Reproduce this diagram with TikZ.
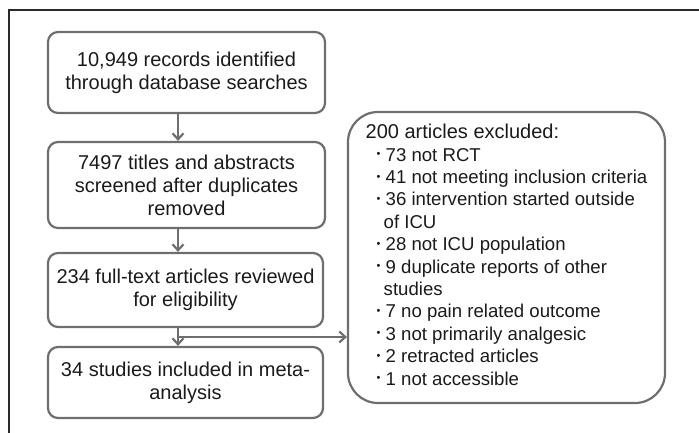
\documentclass[tikz,border=0pt]{standalone}
\usepackage{fontspec}
\setmainfont{Liberation Sans}
\usetikzlibrary{arrows.meta}
\definecolor{boxgray}{HTML}{6E6E6E}
\definecolor{framecol}{HTML}{2A2A2A}
\definecolor{txt}{HTML}{1A1A1A}
\newcommand\bul{\raisebox{3.5pt}{\fontsize{11}{11}\selectfont\textbullet}}
\newcommand\itm[1]{\hspace*{11pt}\makebox[9pt][l]{\bul}#1}
\newcommand\cnt[1]{\hspace*{18pt}#1}
\begin{document}
\begin{tikzpicture}[x=1pt,y=-1pt,
  stagebox/.style={draw=boxgray, line width=2.2pt, rounded corners=10pt, inner sep=0pt,
    align=center, text=txt, font=\fontsize{20}{23}\selectfont},
  exclbox/.style={draw=boxgray, line width=2.2pt, rounded corners=30pt, inner sep=0pt,
    text=txt, font=\fontsize{18.6}{22.4}\selectfont},
  arr/.style={draw=boxgray, line width=2.2pt, -{Straight Barb[length=6pt,width=11pt]}},
  frameline/.style={draw=framecol, line width=1.5pt}]
\useasboundingbox (0,0) rectangle (699,432);
\draw[frameline] (9,433) -- (9,10) -- (700,10);

\node[stagebox, minimum width=277pt, minimum height=81pt] (b1) at (186.5,72.5)
  {10,949 records identified\\through database searches};
\node[stagebox, minimum width=277pt, minimum height=86pt] (b2) at (186.5,185)
  {7497 titles and abstracts\\screened after duplicates\\removed};
\node[stagebox, minimum width=275pt, minimum height=74pt] (b3) at (185.5,290)
  {234 full-text articles reviewed\\for eligibility};
\node[stagebox, minimum width=275pt, minimum height=71pt] (b4) at (185.5,382.5)
  {34 studies included in meta-\\analysis};

\node[exclbox, minimum width=317pt, minimum height=291pt] (excl) at (506.5,257.5)
  {\raisebox{-3pt}{\begin{tabular}{@{}l@{}}
   {\fontsize{20}{22.4}\selectfont 200 articles excluded:}\\
   \itm{73 not RCT}\\
   \itm{41 not meeting inclusion criteria}\\
   \itm{36 intervention started outside}\\
   \cnt{of ICU}\\
   \itm{28 not ICU population}\\
   \itm{9 duplicate reports of other}\\
   \cnt{studies}\\
   \itm{7 no pain related outcome}\\
   \itm{3 not primarily analgesic}\\
   \itm{2 retracted articles}\\
   \itm{1 not accessible}
   \end{tabular}}};

\coordinate (ax) at (178,0);
\coordinate (jn) at (178,337);
\draw[arr] (b1.south -| ax) -- (b2.north -| ax);
\draw[arr] (b2.south -| ax) -- (b3.north -| ax);
\draw[arr] (b3.south -| ax) -- (b4.north -| ax);
\draw[arr] (jn) -- (jn -| excl.west);
\end{tikzpicture}
\end{document}
